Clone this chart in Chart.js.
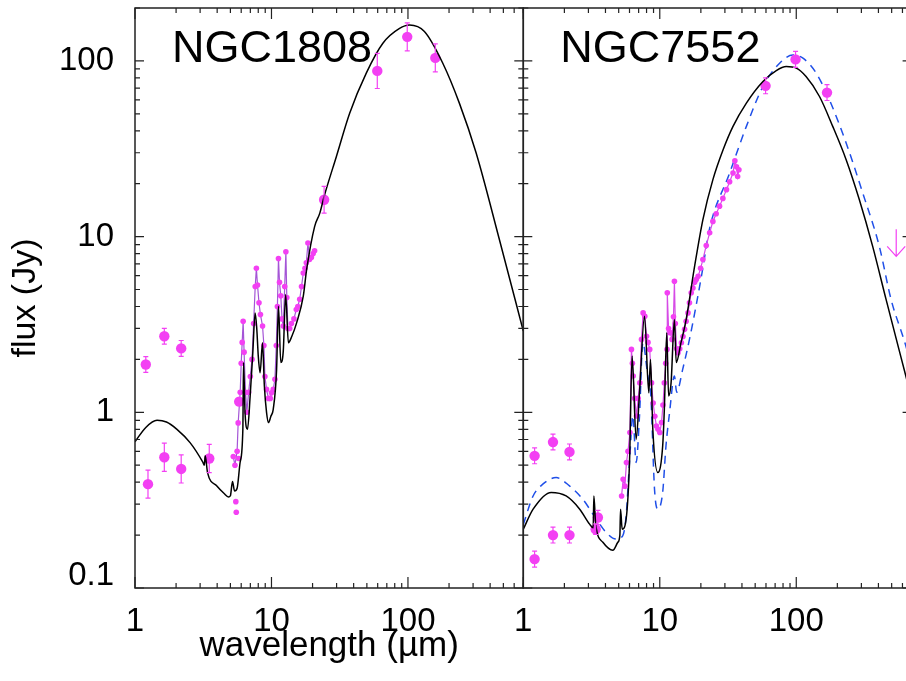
<!DOCTYPE html>
<html>
<head>
<meta charset="utf-8">
<title>SED NGC1808 / NGC7552</title>
<script src="https://cdn.jsdelivr.net/npm/chart.js@4.4.1/dist/chart.umd.min.js"></script>
<style>
    html, body { margin: 0; padding: 0; background: #fff; }
    #wrap { position: relative; width: 906px; height: 681px; overflow: hidden; background: #fff; }
    #left-box { position: absolute; left: 0; top: 0; }
    #right-box { position: absolute; left: 513px; top: 0; }
</style>
</head>
<body>
<div id="wrap">
    <div id="left-box"><canvas id="sed-left" width="540" height="681"></canvas></div>
    <div id="right-box"><canvas id="sed-right" width="420" height="681"></canvas></div>
</div>
<script>
// Axis ranges and labelled ticks
const X_MIN = 1, X_MAX = 700;
const Y_MIN = 0.1, Y_MAX = 200;
const xTickLabels = [1, 10, 100];
const yTickLabels = [0.1, 1, 10, 100];

// NGC1808 - model fit (black)
const modelLeftWave = [1.0, 1.2, 1.45, 1.7, 2.03, 2.54, 3.14, 3.22, 3.27, 3.4, 3.98, 4.5, 4.84, 5.0, 5.18, 5.36, 5.6, 5.89, 6.17, 6.24, 6.4, 6.67, 6.98, 7.3, 7.59, 7.8, 8.0, 8.25, 8.6, 8.87, 9.2, 9.51, 9.9, 10.3, 10.9, 11.25, 11.7, 12.2, 12.7, 13.3, 14.1, 15.3, 17.1, 18.1, 20.7, 22.6, 24.3, 29.9, 37.4, 49.5, 65.5, 86.8, 102.7, 132, 180, 238, 316, 468, 700];
const modelLeftFlux = [0.68, 0.82, 0.90, 0.88, 0.80, 0.67, 0.52, 0.50, 0.565, 0.454, 0.381, 0.345, 0.330, 0.335, 0.404, 0.357, 0.37, 0.518, 0.80, 1.92, 1.0, 0.80, 1.24, 2.2, 3.68, 3.0, 2.1, 1.68, 2.49, 1.41, 1.0, 0.874, 0.95, 1.04, 1.75, 4.02, 1.92, 2.23, 4.68, 2.49, 2.71, 3.24, 4.58, 6.5, 11.4, 13.6, 16.9, 28.6, 50.4, 85.2, 126, 153, 160, 147, 97, 57.5, 29.9, 9.6, 2.9];

// NGC1808 - IRS spectrum
const specLeftWave = [5.25, 5.4, 5.6, 5.7, 5.9, 6.0, 6.1, 6.2, 6.3, 6.45, 6.6, 6.8, 7.0, 7.2, 7.4, 7.6, 7.75, 7.9, 8.1, 8.3, 8.6, 8.8, 8.95, 9.2, 9.5, 9.8, 10.0, 10.3, 10.6, 10.85, 11.05, 11.25, 11.45, 11.7, 11.95, 12.2, 12.5, 12.75, 12.95, 13.2, 13.6, 14.0, 14.6, 15.2, 15.6, 16.1, 16.6, 17.1, 17.6, 18.0, 18.5, 19.0, 19.6, 20.2, 20.7];
const specLeftFlux = [0.56, 0.5, 0.6, 0.87, 1.3, 1.9, 2.5, 3.3, 2.2, 1.3, 1.0, 1.3, 1.6, 2.0, 3.2, 5.2, 6.6, 5.3, 4.2, 3.6, 3.1, 2.4, 1.6, 1.35, 1.2, 1.2, 1.29, 1.35, 1.54, 2.4, 4.0, 7.5, 5.5, 4.6, 3.4, 3.1, 5.2, 8.2, 4.5, 3.0, 3.0, 3.2, 3.4, 3.85, 4.0, 4.4, 5.2, 6.2, 6.6, 7.1, 9.2, 7.4, 7.6, 8.0, 8.3];
const dotsLeftWave = [5.48, 5.52, 5.74];
const dotsLeftFlux = [0.31, 0.27, 0.546];

// NGC1808 - photometry with errors (dex)
const photLeftWave = [1.2, 1.64, 2.18, 1.245, 1.64, 2.18, 3.5, 5.8, 24.3, 59.6, 98.8, 158.6];
const photLeftFlux = [1.87, 2.71, 2.31, 0.39, 0.555, 0.476, 0.546, 1.15, 16.2, 87.7, 137, 104];
const photLeftErr = [0.045, 0.045, 0.045, 0.08, 0.08, 0.08, 0.08, 0.02, 0.076, 0.1, 0.08, 0.08];

// NGC7552 - model fits (black solid, blue dashed)
const modelRightWave = [1.0, 1.18, 1.6, 2.06, 2.59, 3.06, 3.25, 3.29, 3.39, 3.83, 4.53, 4.93, 5.1, 5.16, 5.3, 5.67, 6.0, 6.27, 6.71, 7.1, 7.73, 8.31, 8.55, 8.89, 9.67, 10.5, 10.8, 11.25, 11.6, 12.1, 12.8, 13.2, 14.3, 15.6, 18.0, 20.7, 24.5, 29.1, 34.4, 43.1, 57.0, 71.4, 84.5, 100, 118, 148, 185, 232, 290, 363, 455, 631, 700];
const modelRightFlux = [0.216, 0.281, 0.35, 0.334, 0.281, 0.231, 0.22, 0.334, 0.231, 0.182, 0.164, 0.182, 0.2, 0.281, 0.216, 0.247, 0.518, 2.09, 0.703, 1.29, 3.52, 1.29, 2.0, 0.8, 0.454, 0.643, 1.04, 2.84, 1.24, 1.47, 3.37, 1.92, 2.49, 3.37, 6.78, 12.5, 21.1, 31.2, 42.4, 57.5, 76.3, 88.1, 92.8, 90.9, 81.4, 62.7, 42.4, 27.4, 16.2, 8.8, 4.39, 1.64, 1.2];
const altRightWave = [1.0, 1.18, 1.39, 1.74, 2.18, 2.73, 3.42, 4.05, 4.79, 5.35, 5.67, 6.0, 6.35, 6.71, 7.1, 7.51, 8.17, 8.6, 9.15, 9.67, 10.5, 11.1, 11.8, 12.8, 13.3, 14.7, 16.5, 18.4, 20.6, 23.1, 32.5, 43.1, 57.0, 75.5, 94.5, 112, 140, 175, 232, 307, 406, 495, 631, 700];
const altRightFlux = [0.23, 0.334, 0.39, 0.425, 0.381, 0.32, 0.247, 0.207, 0.19, 0.198, 0.258, 0.52, 0.953, 0.518, 0.95, 2.49, 1.61, 1.24, 0.365, 0.281, 0.35, 0.643, 1.0, 1.61, 1.3, 1.75, 2.6, 4.0, 6.5, 11, 23.0, 42.4, 71.5, 97, 108, 103.6, 85.2, 60, 34.1, 17.7, 8.8, 4.39, 2.43, 1.8];

// NGC7552 - IRS spectrum
const specRightWave = [5.25, 5.39, 5.55, 5.7, 5.85, 6.04, 6.2, 6.3, 6.38, 6.55, 6.75, 6.95, 7.14, 7.35, 7.55, 7.77, 8.0, 8.2, 8.44, 8.7, 8.94, 9.2, 9.45, 9.7, 10.0, 10.3, 10.55, 10.8, 11.05, 11.3, 11.35, 11.6, 11.9, 12.3, 12.6, 12.8, 13.0, 13.3, 13.6, 14.0, 14.4, 14.8, 15.2, 15.6, 16.1, 16.5, 17.0, 17.5, 18.0, 18.5, 19.1, 19.9, 20.7, 21.9, 23.2, 24.5, 25.9, 27.4, 29.0, 30.8, 32.5, 34.4, 35.5, 36.5, 37.2, 38.0];
const specRightFlux = [0.334, 0.416, 0.38, 0.518, 0.6, 0.767, 2.28, 1.9, 1.61, 1.2, 0.953, 1.2, 1.47, 2.6, 3.68, 3.52, 2.71, 2.5, 2.28, 1.47, 1.13, 0.95, 0.835, 0.8, 0.767, 0.874, 1.1, 1.47, 1.9, 2.28, 4.79, 3.0, 2.84, 2.6, 3.5, 5.57, 3.2, 2.3, 2.18, 2.3, 2.49, 2.7, 2.97, 3.3, 3.68, 4.2, 4.79, 5.1, 5.5, 5.7, 5.94, 6.6, 7.4, 8.9, 10.5, 12.2, 13.5, 14.9, 16.5, 18.5, 20.5, 23.0, 27, 25.0, 22, 24];

// NGC7552 - photometry with errors (dex) and upper limit
const photRightWave = [1.21, 1.65, 2.18, 1.21, 1.65, 2.18, 3.52, 3.39, 59.6, 98.8, 168];
const photRightFlux = [0.565, 0.677, 0.595, 0.146, 0.2, 0.2, 0.252, 0.216, 72.1, 102, 66];
const photRightErr = [0.045, 0.045, 0.045, 0.045, 0.045, 0.045, 0.04, 0.03, 0.045, 0.045, 0.045];
const limitRightWave = [540];
const limitRightFlux = [11];

// Colours
const MAGENTA = '#f340f3';
const PURPLE = '#a455d6';
const BLUE = '#1f4fe8';

Chart.defaults.font.family = '"Liberation Sans", Arial, Helvetica, sans-serif';
Chart.defaults.color = '#000';

function toPoints(xs, ys) {
    return xs.map((x, i) => ({ x: x, y: ys[i] }));
}

// Tick positions 1..9 x 10^n inside a range
function logTicks(min, max) {
    const out = [];
    for (let e = Math.floor(Math.log10(min)); e <= Math.ceil(Math.log10(max)); e++) {
        for (let k = 1; k <= 9; k++) {
            const v = k * Math.pow(10, e);
            if (v >= min * 0.999 && v <= max * 1.001) out.push({ v: v, major: k === 1 });
        }
    }
    return out;
}

// Box round the plot with inward ticks on all four sides
const frameTicks = {
    id: 'frameTicks',
    afterDraw(chart) {
        const { ctx, chartArea: a, scales: { x, y } } = chart;
        ctx.save();
        ctx.strokeStyle = '#222';
        ctx.lineWidth = 1.5;
        ctx.strokeRect(a.left, a.top, a.right - a.left, a.bottom - a.top);
        ctx.lineWidth = 1.2;
        ctx.beginPath();
        logTicks(X_MIN, X_MAX).forEach(t => {
            const px = x.getPixelForValue(t.v);
            const len = t.major ? 11 : 5;
            ctx.moveTo(px, a.bottom); ctx.lineTo(px, a.bottom - len);
            ctx.moveTo(px, a.top); ctx.lineTo(px, a.top + len);
        });
        logTicks(Y_MIN, Y_MAX).forEach(t => {
            const py = y.getPixelForValue(t.v);
            const len = t.major ? 9 : 5;
            ctx.moveTo(a.left, py); ctx.lineTo(a.left + len, py);
            ctx.moveTo(a.right, py); ctx.lineTo(a.right - len, py);
        });
        ctx.stroke();
        ctx.restore();
    }
};

// Error bars and upper-limit arrows
const errorBars = {
    id: 'errorBars',
    afterDatasetsDraw(chart) {
        const { ctx, scales: { y } } = chart;
        ctx.save();
        ctx.strokeStyle = MAGENTA;
        ctx.lineWidth = 1.2;
        chart.data.datasets.forEach((ds, i) => {
            const meta = chart.getDatasetMeta(i);
            if (ds.errDex) {
                ds.data.forEach((p, j) => {
                    const px = meta.data[j].x;
                    const f = Math.pow(10, ds.errDex[j]);
                    const top = y.getPixelForValue(p.y * f);
                    const bot = y.getPixelForValue(p.y / f);
                    ctx.beginPath();
                    ctx.moveTo(px, top); ctx.lineTo(px, bot);
                    ctx.moveTo(px - 2.5, top); ctx.lineTo(px + 2.5, top);
                    ctx.moveTo(px - 2.5, bot); ctx.lineTo(px + 2.5, bot);
                    ctx.stroke();
                });
            }
            if (ds.upperLimit) {
                meta.data.forEach(el => {
                    ctx.beginPath();
                    ctx.moveTo(el.x, el.y); ctx.lineTo(el.x, el.y + 27);
                    ctx.moveTo(el.x - 9, el.y + 17); ctx.lineTo(el.x, el.y + 27); ctx.lineTo(el.x + 9, el.y + 17);
                    ctx.stroke();
                });
            }
        });
        ctx.restore();
    }
};

// Galaxy name in the top-left corner of each panel
const panelTitle = {
    id: 'panelTitle',
    afterDraw(chart, args, opts) {
        const { ctx, chartArea: a } = chart;
        ctx.save();
        ctx.fillStyle = '#000';
        ctx.font = '45px "Liberation Sans", Arial, Helvetica, sans-serif';
        ctx.textBaseline = 'alphabetic';
        ctx.fillText(opts.text, a.left + 37, a.top + 54);
        ctx.restore();
    }
};

function makeScales(isLeft) {
    return {
        x: {
            type: 'logarithmic',
            min: X_MIN,
            max: X_MAX,
            grid: { display: false },
            border: { display: false },
            afterBuildTicks: s => { s.ticks = xTickLabels.map(v => ({ value: v })); },
            afterFit: s => { s.height = 93; s.paddingLeft = 0; s.paddingRight = 0; },
            ticks: { autoSkip: false, maxRotation: 0, padding: 6, font: { size: 33 }, callback: v => String(v) },
            title: { display: isLeft, text: 'wavelength (µm)', font: { size: 35 }, padding: { top: 0, bottom: 14 } }
        },
        y: {
            type: 'logarithmic',
            display: isLeft,
            min: Y_MIN,
            max: Y_MAX,
            grid: { display: false },
            border: { display: false },
            afterBuildTicks: s => { s.ticks = yTickLabels.map(v => ({ value: v })); },
            afterFit: s => { s.width = isLeft ? 135 : 0; s.paddingTop = 0; s.paddingBottom = 0; },
            ticks: {
                autoSkip: false,
                padding: 13,
                // the lowest label sits a little above its tick, as in the original figure
                font: c => ({ size: 33, lineHeight: c.tick && c.tick.value === Y_MIN ? 0.73 : 1.2 }),
                callback: v => (v === Y_MIN ? [String(v), ''] : String(v))
            },
            title: { display: true, text: 'flux (Jy)', font: { size: 34 }, padding: { top: 5, bottom: 0 } }
        }
    };
}

function lineSet(xs, ys, color, order, dash) {
    return {
        data: toPoints(xs, ys),
        showLine: true,
        borderColor: color,
        borderWidth: 1.5,
        borderDash: dash || [],
        pointRadius: 0,
        cubicInterpolationMode: 'monotone',
        clip: 0,
        order: order
    };
}

function specSet(xs, ys, lineColor) {
    return {
        data: toPoints(xs, ys),
        showLine: true,
        borderColor: lineColor,
        borderWidth: 1.2,
        pointRadius: 2.8,
        pointBorderWidth: 0,
        pointBackgroundColor: MAGENTA,
        tension: 0,
        clip: 0,
        order: 3
    };
}

function dotSet(xs, ys, radius, order) {
    return {
        data: toPoints(xs, ys),
        showLine: false,
        pointRadius: radius,
        pointBorderWidth: 0,
        pointBackgroundColor: MAGENTA,
        clip: 0,
        order: order
    };
}

function createPanel(canvasId, datasets, title, isLeft, padding) {
    return new Chart(document.getElementById(canvasId), {
        type: 'scatter',
        data: { datasets: datasets },
        options: {
            responsive: false,
            animation: false,
            layout: { padding: padding },
            scales: makeScales(isLeft),
            plugins: {
                legend: { display: false },
                tooltip: { enabled: false },
                panelTitle: { text: title }
            }
        },
        plugins: [frameTicks, errorBars, panelTitle]
    });
}

// Left panel: NGC1808
const photLeft = dotSet(photLeftWave, photLeftFlux, 5.2, 1);
photLeft.errDex = photLeftErr;
createPanel('sed-left', [
    lineSet(modelLeftWave, modelLeftFlux, '#000', 0),
    photLeft,
    specSet(specLeftWave, specLeftFlux, PURPLE),
    dotSet(dotsLeftWave, dotsLeftFlux, 2.8, 2)
], 'NGC1808', true, { left: 0, right: 16.7, top: 8, bottom: 0 });

// Right panel: NGC7552
const photRight = dotSet(photRightWave, photRightFlux, 5.2, 1);
photRight.errDex = photRightErr;
const limitRight = dotSet(limitRightWave, limitRightFlux, 0, 1);
limitRight.upperLimit = true;
createPanel('sed-right', [
    lineSet(modelRightWave, modelRightFlux, '#000', 0),
    photRight,
    limitRight,
    specSet(specRightWave, specRightFlux, '#d64ae6'),
    lineSet(altRightWave, altRightFlux, BLUE, 4, [8, 6])
], 'NGC7552', false, { left: 10.3, right: 21.4, top: 8, bottom: 0 });
</script>
</body>
</html>
